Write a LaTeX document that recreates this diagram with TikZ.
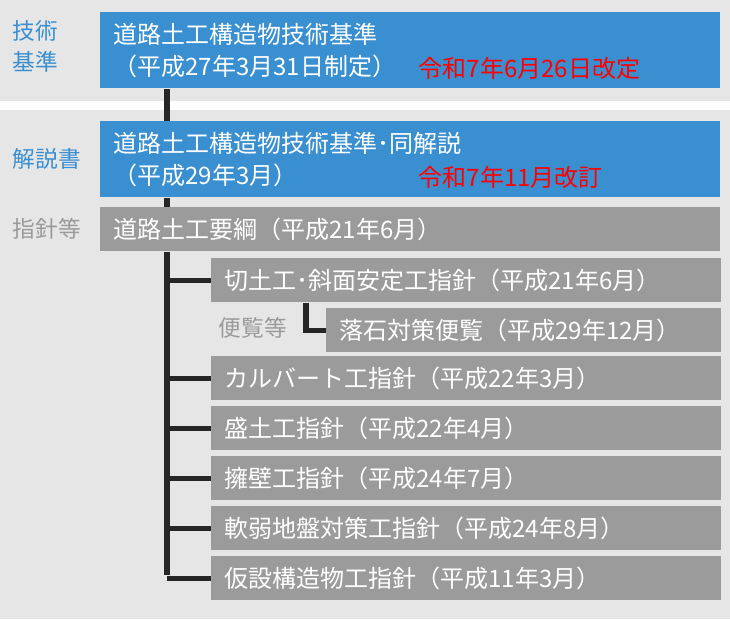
\documentclass[tikz,border=0pt]{standalone}
\usepackage{fontspec}
\setmainfont{Noto Sans CJK JP}
\usetikzlibrary{positioning}
\definecolor{bgray}{HTML}{E6E6E6}
\definecolor{stdblue}{HTML}{3A8FD0}
\definecolor{boxgray}{HTML}{9B9B9B}
\definecolor{lblgray}{HTML}{9A9A9A}
\tikzset{
  box/.style={anchor=north west,inner xsep=10pt,inner ysep=0pt,text=white,
    font=\fontsize{18}{24}\selectfont,align=left},
  bluebox/.style={box,fill=stdblue,minimum height=57pt,text width=445pt},
  graybox/.style={box,fill=boxgray,minimum height=33pt},
  side/.style={anchor=north west,font=\fontsize{17}{23}\selectfont,align=left},
  link/.style={line width=4pt,draw=black!85}
}
\begin{document}
\begin{tikzpicture}[x=0.75pt,y=-0.75pt]
\fill[bgray] (0,0) rectangle (730,619);
\fill[white] (0,101) rectangle (730,110);

\node[bluebox] (std) at (100,12) {道路土工構造物技術基準\\（平成27年3月31日制定）};
\node[anchor=west,text=red,font=\fontsize{18}{24}\selectfont] (stdrev) at (414,68) {令和7年6月26日改定};
\node[bluebox] (cmt) at (100,121) {道路土工構造物技術基準･同解説\\（平成29年3月）};
\node[anchor=west,text=red,font=\fontsize{18}{24}\selectfont] (cmtrev) at (414,177) {令和7年11月改訂};
\node[graybox,text width=445pt] (youkou) at (100,207) {道路土工要綱（平成21年6月）};

\node[side,text=stdblue] at (8,16) {技術\\基準};
\node[side,text=stdblue] at (8,144) {解説書};
\node[side,text=lblgray] at (8,214) {指針等};
\node[side,text=lblgray] at (214,313) {便覧等};

\node[graybox,text width=362pt] (kiri) at (211,258) {切土工･斜面安定工指針（平成21年6月）};
\node[graybox,text width=276pt] (rakuseki) at (326,308) {落石対策便覧（平成29年12月）};
\node[graybox,text width=362pt] (culvert) at (211,356) {カルバート工指針（平成22年3月）};
\node[graybox,text width=362pt] (mori) at (211,406) {盛土工指針（平成22年4月）};
\node[graybox,text width=362pt] (youheki) at (211,456) {擁壁工指針（平成24年7月）};
\node[graybox,text width=362pt] (nanjaku) at (211,506) {軟弱地盤対策工指針（平成24年8月）};
\node[graybox,text width=362pt] (kasetsu) at (211,556) {仮設構造物工指針（平成11年3月）};

\coordinate (trunk) at (167,578);
\draw[link] (std.south -| trunk) -- (cmt.north -| trunk);
\draw[link] (cmt.south -| trunk) -- (youkou.north -| trunk);
\draw[link] (youkou.south -| trunk) -- ([yshift=2pt]trunk);
\foreach \n in {kiri,culvert,mori,youheki,nanjaku,kasetsu}
  \draw[link] (\n.west -| trunk) -- (\n.west);
\draw[link] ([xshift=-15pt]rakuseki.west |- kiri.south) |- (rakuseki.west);
\end{tikzpicture}
\end{document}
